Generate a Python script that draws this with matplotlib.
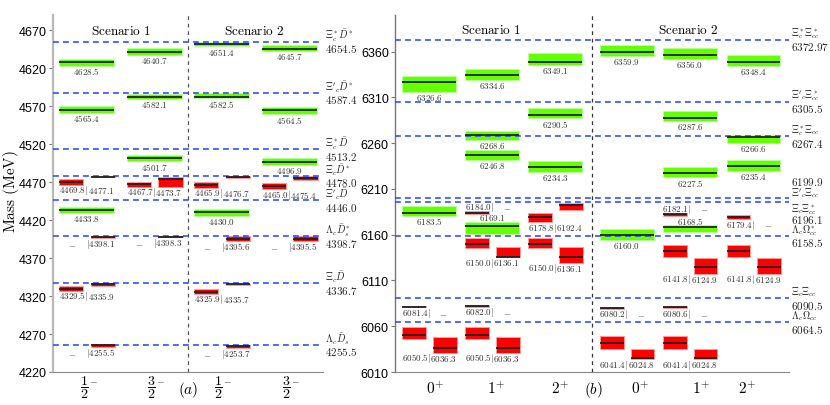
import numpy as np
import matplotlib.pyplot as plt
from matplotlib.transforms import blended_transform_factory

plt.rcParams['mathtext.fontset'] = 'cm'
plt.rcParams['font.family'] = ['Liberation Sans', 'DejaVu Sans']

nan = np.nan

# ---------------- panel (a) ----------------
a_tick_labels = [r'$\dfrac{1}{2}^{-}$', r'$\dfrac{3}{2}^{-}$', r'$\dfrac{1}{2}^{-}$', r'$\dfrac{3}{2}^{-}$']
a_thr_names = [r'$\Xi_c^*\bar{D}^*$', r"$\Xi'_c\bar{D}^*$", r'$\Xi_c^*\bar{D}$', r'$\Xi_c\bar{D}^*$',
               r"$\Xi'_c\bar{D}$", r'$\Lambda_c\bar{D}_s^*$', r'$\Xi_c\bar{D}$', r'$\Lambda_c\bar{D}_s$']
a_thr_vals = [4654.5, 4587.4, 4513.2, 4478.0, 4446.0, 4398.7, 4336.7, 4255.5]

a_green_col = [0, 0, 0, 1, 1, 1, 2, 2, 2, 3, 3, 3]
a_green_m = [4628.5, 4565.4, 4433.8, 4640.7, 4582.1, 4501.7, 4651.4, 4582.5, 4430.0, 4645.7, 4564.5, 4496.9]
a_green_up = [3.5, 4.5, 4.0, 5.9, 4.3, 4.3, 2.6, 4.5, 4.7, 5.3, 4.3, 4.5]
a_green_dn = [5.3, 4.3, 4.7, 2.9, 2.2, 4.0, 2.6, 2.1, 4.0, 2.6, 4.9, 3.9]

a_red_col = [0, 0, 0, 0, 1, 1, 2, 2, 2, 2, 3, 3]
a_red_left = [4469.8, nan, 4329.5, nan, 4467.7, nan, 4465.9, nan, 4325.9, nan, 4465.0, nan]
a_red_left_up = [4.0, 0, 3.4, 0, 3.0, 0, 3.9, 0, 3.3, 0, 3.8, 0]
a_red_left_dn = [3.0, 0, 2.8, 0, 4.0, 0, 3.5, 0, 2.9, 0, 4.3, 0]
a_red_right = [4477.1, 4398.1, 4335.9, 4255.5, 4473.7, 4398.3, 4476.7, 4395.6, 4335.7, 4253.7, 4475.4, 4395.5]
a_red_right_up = [0.8, 1.3, 1.3, 1.3, 2.6, 1.0, 0.8, 3.0, 0.8, 2.2, 2.2, 3.0]
a_red_right_dn = [0.8, 2.1, 2.6, 3.0, 9.7, 1.0, 0.8, 3.6, 0.8, 2.6, 2.6, 3.6]

# ---------------- panel (b) ----------------
b_tick_labels = [r'$0^{+}$', r'$1^{+}$', r'$2^{+}$', r'$0^{+}$', r'$1^{+}$', r'$2^{+}$']
b_thr_names = [r'$\Xi_c^*\Xi_{cc}^*$', r"$\Xi'_c\Xi_{cc}^*$", r'$\Xi_c^*\Xi_{cc}$', r"$\Xi'_c\Xi_{cc}$",
               r'$\Xi_c\Xi_{cc}^*$', r'$\Lambda_c\Omega_{cc}^*$', r'$\Xi_c\Xi_{cc}$', r'$\Lambda_c\Omega_{cc}$']
b_thr_vals = [6372.97, 6305.5, 6267.4, 6199.9, 6196.1, 6158.5, 6090.5, 6064.5]
b_thr_place = ['n', 'n', 'n', 'up', 'down', 'n', 'n', 'n']

b_green_col = [0, 0, 1, 1, 1, 1, 2, 2, 2, 3, 3, 4, 4, 4, 4, 5, 5, 5]
b_green_m = [6326.6, 6183.5, 6334.6, 6268.6, 6246.8, 6169.1, 6349.1, 6290.5, 6234.3,
             6359.9, 6160.0, 6356.0, 6287.6, 6227.5, 6168.5, 6348.4, 6266.6, 6235.4]
b_green_up = [7.1, 7.6, 6.0, 4.3, 5.7, 4.4, 9.0, 7.9, 6.1, 7.3, 5.8, 8.0, 7.1, 6.0, 1.8, 7.9, 2.2, 6.1]
b_green_dn = [10.4, 3.0, 5.7, 4.9, 4.9, 8.5, 3.7, 3.4, 5.6, 4.4, 6.2, 4.0, 3.2, 4.9, 5.5, 3.8, 6.9, 5.6]

b_red_col = [0, 0, 1, 1, 1, 1, 2, 2, 3, 3, 4, 4, 4, 4, 5, 5]
b_red_left = [6081.4, 6050.5, 6184.0, 6150.0, 6082.0, 6050.5, 6178.8, 6150.0,
              6080.2, 6041.4, 6182.1, 6141.8, 6080.6, 6041.4, 6179.4, 6141.8]
b_red_left_up = [0.8, 8.5, 1.5, 6.8, 0.8, 8.5, 5.0, 6.8, 1.2, 8.2, 1.3, 7.0, 1.2, 8.2, 2.5, 7.0]
b_red_left_dn = [0.8, 4.9, 1.5, 4.4, 0.8, 4.9, 5.0, 4.4, 1.2, 6.0, 1.3, 5.8, 1.2, 6.0, 2.5, 5.8]
b_red_right = [nan, 6036.3, nan, 6136.1, nan, 6036.3, 6192.4, 6136.1,
               nan, 6024.8, nan, 6124.9, nan, 6024.8, nan, 6124.9]
b_red_right_up = [0, 12.0, 0, 10.5, 0, 12.0, 2.0, 10.5, 0, 10.3, 0, 9.5, 0, 10.3, 0, 9.5]
b_red_right_dn = [0, 5.5, 0, 0.7, 0, 5.5, 5.5, 6.5, 0, 1.1, 0, 7.3, 0, 1.1, 0, 7.3]

# labels drawn above the level instead of below
b_label_above = [6169.1, 6168.5, 6184.0, 6182.1]

GREEN, GREEN_EDGE = '#66ff00', '#b8ff9a'
RED, RED_EDGE = '#ff0000', '#ff9a9a'
BLUE = '#3050ff'


def draw_panel(ax, centers, g_col, g_m, g_up, g_dn,
               r_col, r_l, r_lu, r_ld, r_r, r_ru, r_rd,
               thr_names, thr_vals, thr_place, above=()):
    gw = 0.41
    for c, m, up, dn in zip(g_col, g_m, g_up, g_dn):
        x = centers[c]
        ax.bar(x, up + dn, bottom=m - dn, width=2 * gw, color=GREEN,
               edgecolor=GREEN_EDGE, linewidth=0.7, zorder=2)
        ax.hlines(m, x - gw, x + gw, color='#222222', lw=1.3, zorder=4)
        if m in above:
            ax.annotate(r'$%s$' % m, (x, m + up), xytext=(0, 3.6), textcoords='offset points',
                        ha='center', va='center', fontsize=6.5, color='#333333')
        else:
            ax.annotate(r'$%s$' % m, (x, m - dn), xytext=(0, -3.6), textcoords='offset points',
                        ha='center', va='center', fontsize=6.5, color='#333333')

    for c, l, lu, ld, r, ru, rd in zip(r_col, r_l, r_lu, r_ld, r_r, r_ru, r_rd):
        x = centers[c]
        lo, hi = [], []
        if not np.isnan(l):
            ax.bar(x - 0.23, lu + ld, bottom=l - ld, width=0.36, color=RED,
                   edgecolor=RED_EDGE, linewidth=0.7, zorder=2)
            ax.hlines(l, x - 0.41, x - 0.05, color='#222222', lw=1.3, zorder=4)
            lo.append(l - ld)
            hi.append(l + lu)
        if not np.isnan(r):
            ax.bar(x + 0.24, ru + rd, bottom=r - rd, width=0.36, color=RED,
                   edgecolor=RED_EDGE, linewidth=0.7, zorder=2)
            ax.hlines(r, x + 0.06, x + 0.42, color='#222222', lw=1.3, zorder=4)
            lo.append(r - rd)
            hi.append(r + ru)
        if l in above:
            y, dy = max(hi), 3.6
        else:
            y, dy = min(lo), -3.6
        kw = dict(textcoords='offset points', va='center', fontsize=6.5, color='#333333')
        if np.isnan(l):
            ax.annotate(r'$-$', (x - 0.22, y), xytext=(0, dy), ha='center', **kw)
            ax.annotate(r'$|%s$' % r, (x, y), xytext=(-0.8, dy), ha='left', **kw)
        else:
            ax.annotate(r'$%s|$' % l, (x, y), xytext=(0.8, dy), ha='right', **kw)
            if np.isnan(r):
                ax.annotate(r'$-$', (x + 0.22, y), xytext=(0, dy), ha='center', **kw)
            else:
                ax.annotate(r'$%s$' % r, (x, y), xytext=(0.8, dy), ha='left', **kw)

    trans = blended_transform_factory(ax.transAxes, ax.transData)
    offs = {'n': (4.8, -4.6), 'up': (4.0, 12.4), 'down': (-4.8, -12.4)}
    for name, v, p in zip(thr_names, thr_vals, thr_place):
        ax.axhline(v, color=BLUE, lw=1.2, ls=(0, (3.5, 2.5)), zorder=3)
        dn_name, dn_num = offs[p]
        ax.annotate(name, (1, v), xycoords=trans, xytext=(1.5, dn_name), textcoords='offset points',
                    ha='left', va='center', fontsize=7.2, color='#222222', annotation_clip=False)
        ax.annotate(r'$%s$' % v, (1, v), xycoords=trans, xytext=(1.5, dn_num), textcoords='offset points',
                    ha='left', va='center', fontsize=8, color='#222222', annotation_clip=False)


fig = plt.figure(figsize=(8.3, 4.06), dpi=100)
axa = fig.add_axes([53 / 830, 33 / 406, 270 / 830, 357 / 406])
axb = fig.add_axes([395 / 830, 33 / 406, 394 / 830, 357 / 406])

# panel (a)
a_centers = [0.5, 1.5, 2.5, 3.5]
draw_panel(axa, a_centers, a_green_col, a_green_m, a_green_up, a_green_dn,
           a_red_col, a_red_left, a_red_left_up, a_red_left_dn,
           a_red_right, a_red_right_up, a_red_right_dn,
           a_thr_names, a_thr_vals, ['n'] * len(a_thr_vals))
axa.set_xlim(0, 4)
axa.set_ylim(4220, 4690)
axa.set_yticks(np.arange(4220, 4671, 50))
axa.set_xticks([0.53, 1.52, 2.52, 3.52])
axa.set_xticklabels(a_tick_labels, fontsize=10)
axa.tick_params(axis='x', length=0, pad=1.5)
axa.axvline(2.0, color='#555555', lw=0.9, ls=(0, (3, 3)), zorder=5)
axa.text(1.0, 4669, r'$\mathrm{Scenario\ 1}$', ha='center', va='center', fontsize=9.5)
axa.text(2.98, 4669, r'$\mathrm{Scenario\ 2}$', ha='center', va='center', fontsize=9.5)
axa.text(2.0, -0.048, r'$(a)$', transform=blended_transform_factory(axa.transData, axa.transAxes),
         ha='center', va='center', fontsize=11)
axa.spines['left'].set_color('#b8b8b8')
axa.spines['left'].set_linewidth(1.6)
fig.text(11 / 830, 1 - 192 / 406, r'$\mathrm{Mass\ (MeV)}$', rotation=90,
         ha='center', va='center', fontsize=11)

# panel (b)
b_centers = [0.52, 1.48, 2.44, 3.53, 4.49, 5.46]
draw_panel(axb, b_centers, b_green_col, b_green_m, b_green_up, b_green_dn,
           b_red_col, b_red_left, b_red_left_up, b_red_left_dn,
           b_red_right, b_red_right_up, b_red_right_dn,
           b_thr_names, b_thr_vals, b_thr_place, above=b_label_above)
axb.set_xlim(0, 6)
axb.set_ylim(6010, 6400)
axb.set_yticks(np.arange(6010, 6361, 50))
axb.set_xticks([0.61, 1.54, 2.51, 3.73, 4.66, 5.36])
axb.set_xticklabels(b_tick_labels, fontsize=11)
axb.tick_params(axis='x', length=0, pad=5.5)
axb.axvline(3.0, color='#333333', lw=0.9, ls=(0, (3, 3)), zorder=5)
axb.text(1.46, 6384, r'$\mathrm{Scenario\ 1}$', ha='center', va='center', fontsize=9.5)
axb.text(4.46, 6384, r'$\mathrm{Scenario\ 2}$', ha='center', va='center', fontsize=9.5)
axb.text(3.02, -0.048, r'$(b)$', transform=blended_transform_factory(axb.transData, axb.transAxes),
         ha='center', va='center', fontsize=11)
axb.spines['left'].set_color('#777777')
axb.spines['left'].set_linewidth(1.0)

for ax in (axa, axb):
    ax.spines['top'].set_visible(False)
    ax.spines['right'].set_visible(False)
    ax.spines['bottom'].set_color('#888888')
    ax.tick_params(axis='y', direction='out', length=3, width=0.8, color='#777777',
                   labelsize=9, pad=1.5)

fig.savefig('out.png', dpi=100)
